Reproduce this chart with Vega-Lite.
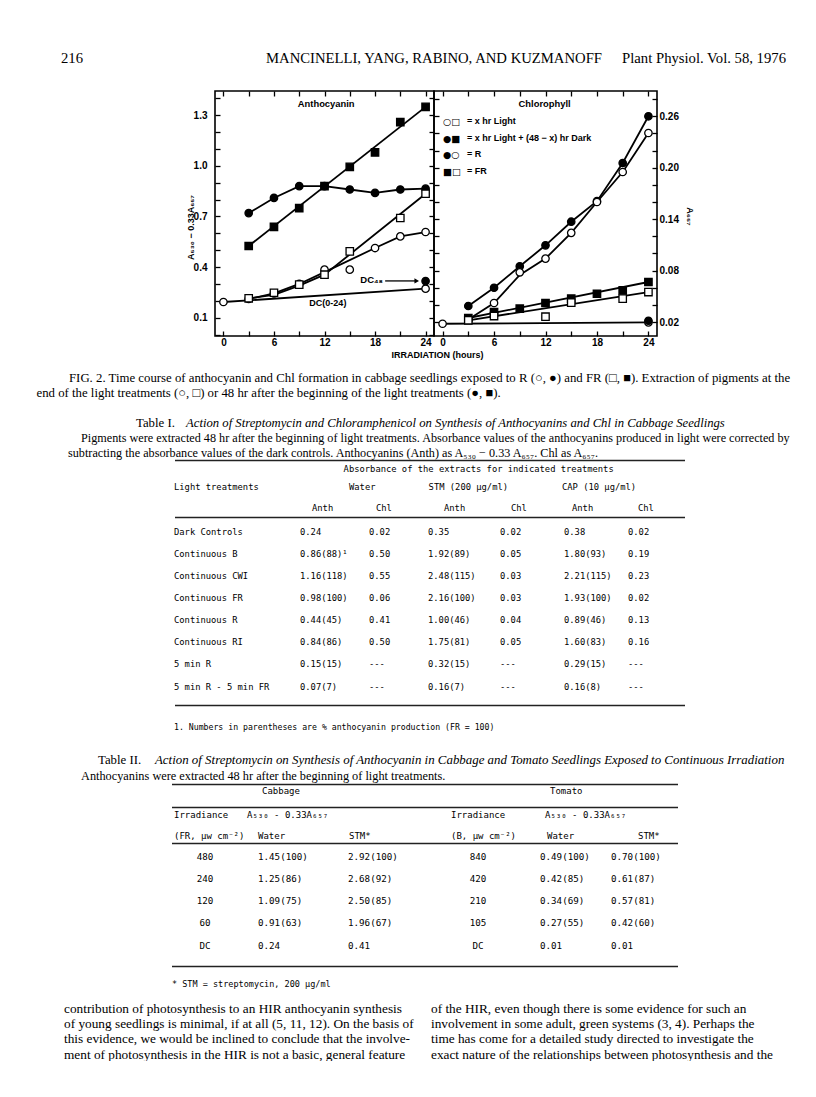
{
"$schema": "https://vega.github.io/schema/vega-lite/v6.json",
"padding": 0,
"background": "white",
"spacing": 0,
"config": {
  "view": {"stroke": null},
  "axis": {"grid": false, "domain": false, "ticks": true, "tickColor": "black", "tickWidth": 1.3, "labelColor": "black", "labelFont": "Liberation Sans", "labelFontWeight": "bold", "labelFontSize": 10, "labelFlush": false, "labelOverlap": false, "titleColor": "black", "titleFont": "Liberation Sans", "titleFontWeight": "bold", "titleFontSize": 9},
  "text": {"color": "black"}
},
"datasets": {
  "header": [
    {"t": "216", "slot": "left"},
    {"t": "MANCINELLI, YANG, RABINO, AND KUZMANOFF", "slot": "center"},
    {"t": "Plant Physiol. Vol. 58, 1976", "slot": "right"}
  ],
  "antho_pts": [
    {"hour": 3, "value": 0.72, "treatment": "R", "extraction": "48 h"},
    {"hour": 6, "value": 0.81, "treatment": "R", "extraction": "48 h"},
    {"hour": 9, "value": 0.88, "treatment": "R", "extraction": "48 h"},
    {"hour": 12, "value": 0.88, "treatment": "R", "extraction": "48 h"},
    {"hour": 15, "value": 0.86, "treatment": "R", "extraction": "48 h"},
    {"hour": 18, "value": 0.84, "treatment": "R", "extraction": "48 h"},
    {"hour": 21, "value": 0.86, "treatment": "R", "extraction": "48 h"},
    {"hour": 24, "value": 0.865, "treatment": "R", "extraction": "48 h"},
    {"hour": 3, "value": 0.525, "treatment": "FR", "extraction": "48 h"},
    {"hour": 6, "value": 0.638, "treatment": "FR", "extraction": "48 h"},
    {"hour": 9, "value": 0.75, "treatment": "FR", "extraction": "48 h"},
    {"hour": 12, "value": 0.88, "treatment": "FR", "extraction": "48 h"},
    {"hour": 15, "value": 0.994, "treatment": "FR", "extraction": "48 h"},
    {"hour": 18, "value": 1.08, "treatment": "FR", "extraction": "48 h"},
    {"hour": 21, "value": 1.26, "treatment": "FR", "extraction": "48 h"},
    {"hour": 24, "value": 1.35, "treatment": "FR", "extraction": "48 h"},
    {"hour": 3, "value": 0.211, "treatment": "R", "extraction": "end of light"},
    {"hour": 6, "value": 0.244, "treatment": "R", "extraction": "end of light"},
    {"hour": 9, "value": 0.3, "treatment": "R", "extraction": "end of light"},
    {"hour": 12, "value": 0.385, "treatment": "R", "extraction": "end of light"},
    {"hour": 15, "value": 0.385, "treatment": "R", "extraction": "end of light"},
    {"hour": 18, "value": 0.513, "treatment": "R", "extraction": "end of light"},
    {"hour": 21, "value": 0.582, "treatment": "R", "extraction": "end of light"},
    {"hour": 24, "value": 0.608, "treatment": "R", "extraction": "end of light"},
    {"hour": 3, "value": 0.215, "treatment": "FR", "extraction": "end of light"},
    {"hour": 6, "value": 0.248, "treatment": "FR", "extraction": "end of light"},
    {"hour": 9, "value": 0.296, "treatment": "FR", "extraction": "end of light"},
    {"hour": 12, "value": 0.355, "treatment": "FR", "extraction": "end of light"},
    {"hour": 15, "value": 0.493, "treatment": "FR", "extraction": "end of light"},
    {"hour": 21, "value": 0.691, "treatment": "FR", "extraction": "end of light"},
    {"hour": 24, "value": 0.835, "treatment": "FR", "extraction": "end of light"},
    {"hour": 0, "value": 0.193, "treatment": "DC", "extraction": "end of light"},
    {"hour": 24, "value": 0.272, "treatment": "DC", "extraction": "end of light"},
    {"hour": 24, "value": 0.317, "treatment": "DC", "extraction": "48 h"}
  ],
  "antho_lines": [
    {"series": "R, 48 h", "hour": 3, "value": 0.72},
    {"series": "R, 48 h", "hour": 6, "value": 0.81},
    {"series": "R, 48 h", "hour": 9, "value": 0.88},
    {"series": "R, 48 h", "hour": 12, "value": 0.88},
    {"series": "R, 48 h", "hour": 15, "value": 0.86},
    {"series": "R, 48 h", "hour": 18, "value": 0.84},
    {"series": "R, 48 h", "hour": 21, "value": 0.86},
    {"series": "R, 48 h", "hour": 24, "value": 0.865},
    {"series": "FR, 48 h", "hour": 3, "value": 0.525},
    {"series": "FR, 48 h", "hour": 24, "value": 1.35},
    {"series": "R, end", "hour": 3, "value": 0.211},
    {"series": "R, end", "hour": 6, "value": 0.244},
    {"series": "R, end", "hour": 9, "value": 0.3},
    {"series": "R, end", "hour": 12, "value": 0.37},
    {"series": "R, end", "hour": 18, "value": 0.513},
    {"series": "R, end", "hour": 21, "value": 0.582},
    {"series": "R, end", "hour": 24, "value": 0.608},
    {"series": "FR, end", "hour": 3, "value": 0.215},
    {"series": "FR, end", "hour": 6, "value": 0.235},
    {"series": "FR, end", "hour": 9, "value": 0.29},
    {"series": "FR, end", "hour": 12, "value": 0.355},
    {"series": "FR, end", "hour": 24, "value": 0.835},
    {"series": "DC", "hour": 0, "value": 0.193},
    {"series": "DC", "hour": 24, "value": 0.272}
  ],
  "chl_pts": [
    {"hour": 3, "value": 0.0387, "treatment": "R", "extraction": "48 h"},
    {"hour": 6, "value": 0.06, "treatment": "R", "extraction": "48 h"},
    {"hour": 9, "value": 0.085, "treatment": "R", "extraction": "48 h"},
    {"hour": 12, "value": 0.1095, "treatment": "R", "extraction": "48 h"},
    {"hour": 15, "value": 0.137, "treatment": "R", "extraction": "48 h"},
    {"hour": 18, "value": 0.161, "treatment": "R", "extraction": "48 h"},
    {"hour": 21, "value": 0.2055, "treatment": "R", "extraction": "48 h"},
    {"hour": 24, "value": 0.26, "treatment": "R", "extraction": "48 h"},
    {"hour": 3, "value": 0.023, "treatment": "R", "extraction": "end of light"},
    {"hour": 6, "value": 0.0422, "treatment": "R", "extraction": "end of light"},
    {"hour": 9, "value": 0.078, "treatment": "R", "extraction": "end of light"},
    {"hour": 12, "value": 0.094, "treatment": "R", "extraction": "end of light"},
    {"hour": 15, "value": 0.124, "treatment": "R", "extraction": "end of light"},
    {"hour": 18, "value": 0.16, "treatment": "R", "extraction": "end of light"},
    {"hour": 21, "value": 0.195, "treatment": "R", "extraction": "end of light"},
    {"hour": 24, "value": 0.2405, "treatment": "R", "extraction": "end of light"},
    {"hour": 3, "value": 0.0247, "treatment": "FR", "extraction": "48 h"},
    {"hour": 6, "value": 0.0317, "treatment": "FR", "extraction": "48 h"},
    {"hour": 9, "value": 0.0356, "treatment": "FR", "extraction": "48 h"},
    {"hour": 12, "value": 0.0422, "treatment": "FR", "extraction": "48 h"},
    {"hour": 15, "value": 0.0473, "treatment": "FR", "extraction": "48 h"},
    {"hour": 18, "value": 0.053, "treatment": "FR", "extraction": "48 h"},
    {"hour": 21, "value": 0.057, "treatment": "FR", "extraction": "48 h"},
    {"hour": 24, "value": 0.0667, "treatment": "FR", "extraction": "48 h"},
    {"hour": 3, "value": 0.022, "treatment": "FR", "extraction": "end of light"},
    {"hour": 6, "value": 0.027, "treatment": "FR", "extraction": "end of light"},
    {"hour": 12, "value": 0.0262, "treatment": "FR", "extraction": "end of light"},
    {"hour": 15, "value": 0.0426, "treatment": "FR", "extraction": "end of light"},
    {"hour": 21, "value": 0.0473, "treatment": "FR", "extraction": "end of light"},
    {"hour": 24, "value": 0.055, "treatment": "FR", "extraction": "end of light"},
    {"hour": 0, "value": 0.018, "treatment": "DC", "extraction": "end of light"},
    {"hour": 24, "value": 0.0195, "treatment": "DC", "extraction": "end of light"},
    {"hour": 24, "value": 0.0215, "treatment": "DC", "extraction": "48 h"}
  ],
  "chl_lines": [
    {"series": "R, 48 h", "hour": 3, "value": 0.0387},
    {"series": "R, 48 h", "hour": 6, "value": 0.06},
    {"series": "R, 48 h", "hour": 9, "value": 0.085},
    {"series": "R, 48 h", "hour": 12, "value": 0.1095},
    {"series": "R, 48 h", "hour": 15, "value": 0.137},
    {"series": "R, 48 h", "hour": 18, "value": 0.161},
    {"series": "R, 48 h", "hour": 21, "value": 0.2055},
    {"series": "R, 48 h", "hour": 24, "value": 0.26},
    {"series": "R, end", "hour": 3, "value": 0.023},
    {"series": "R, end", "hour": 6, "value": 0.0422},
    {"series": "R, end", "hour": 9, "value": 0.075},
    {"series": "R, end", "hour": 12, "value": 0.094},
    {"series": "R, end", "hour": 15, "value": 0.124},
    {"series": "R, end", "hour": 18, "value": 0.16},
    {"series": "R, end", "hour": 21, "value": 0.195},
    {"series": "R, end", "hour": 24, "value": 0.2405},
    {"series": "FR, 48 h", "hour": 3, "value": 0.0247},
    {"series": "FR, 48 h", "hour": 24, "value": 0.0667},
    {"series": "FR, end", "hour": 3, "value": 0.022},
    {"series": "FR, end", "hour": 24, "value": 0.055},
    {"series": "DC", "hour": 0, "value": 0.018},
    {"series": "DC", "hour": 24, "value": 0.0195}
  ],
  "t1groups": [
    {"grp": 0, "t": "Light treatments"},
    {"grp": 1, "t": "Water"},
    {"grp": 2, "t": "STM (200 µg/ml)"},
    {"grp": 3, "t": "CAP (10 µg/ml)"}
  ],
  "t1sub": [
    {"col": 1, "t": "Anth"}, {"col": 2, "t": "Chl"},
    {"col": 3, "t": "Anth"}, {"col": 4, "t": "Chl"},
    {"col": 5, "t": "Anth"}, {"col": 6, "t": "Chl"}
  ],
  "table1": [
    {"row": 0, "col": 0, "t": "Dark Controls"}, {"row": 0, "col": 1, "t": "0.24"}, {"row": 0, "col": 2, "t": "0.02"}, {"row": 0, "col": 3, "t": "0.35"}, {"row": 0, "col": 4, "t": "0.02"}, {"row": 0, "col": 5, "t": "0.38"}, {"row": 0, "col": 6, "t": "0.02"},
    {"row": 1, "col": 0, "t": "Continuous B"}, {"row": 1, "col": 1, "t": "0.86(88)¹"}, {"row": 1, "col": 2, "t": "0.50"}, {"row": 1, "col": 3, "t": "1.92(89)"}, {"row": 1, "col": 4, "t": "0.05"}, {"row": 1, "col": 5, "t": "1.80(93)"}, {"row": 1, "col": 6, "t": "0.19"},
    {"row": 2, "col": 0, "t": "Continuous CWI"}, {"row": 2, "col": 1, "t": "1.16(118)"}, {"row": 2, "col": 2, "t": "0.55"}, {"row": 2, "col": 3, "t": "2.48(115)"}, {"row": 2, "col": 4, "t": "0.03"}, {"row": 2, "col": 5, "t": "2.21(115)"}, {"row": 2, "col": 6, "t": "0.23"},
    {"row": 3, "col": 0, "t": "Continuous FR"}, {"row": 3, "col": 1, "t": "0.98(100)"}, {"row": 3, "col": 2, "t": "0.06"}, {"row": 3, "col": 3, "t": "2.16(100)"}, {"row": 3, "col": 4, "t": "0.03"}, {"row": 3, "col": 5, "t": "1.93(100)"}, {"row": 3, "col": 6, "t": "0.02"},
    {"row": 4, "col": 0, "t": "Continuous R"}, {"row": 4, "col": 1, "t": "0.44(45)"}, {"row": 4, "col": 2, "t": "0.41"}, {"row": 4, "col": 3, "t": "1.00(46)"}, {"row": 4, "col": 4, "t": "0.04"}, {"row": 4, "col": 5, "t": "0.89(46)"}, {"row": 4, "col": 6, "t": "0.13"},
    {"row": 5, "col": 0, "t": "Continuous RI"}, {"row": 5, "col": 1, "t": "0.84(86)"}, {"row": 5, "col": 2, "t": "0.50"}, {"row": 5, "col": 3, "t": "1.75(81)"}, {"row": 5, "col": 4, "t": "0.05"}, {"row": 5, "col": 5, "t": "1.60(83)"}, {"row": 5, "col": 6, "t": "0.16"},
    {"row": 6, "col": 0, "t": "5 min R"}, {"row": 6, "col": 1, "t": "0.15(15)"}, {"row": 6, "col": 2, "t": "---"}, {"row": 6, "col": 3, "t": "0.32(15)"}, {"row": 6, "col": 4, "t": "---"}, {"row": 6, "col": 5, "t": "0.29(15)"}, {"row": 6, "col": 6, "t": "---"},
    {"row": 7, "col": 0, "t": "5 min R - 5 min FR"}, {"row": 7, "col": 1, "t": "0.07(7)"}, {"row": 7, "col": 2, "t": "---"}, {"row": 7, "col": 3, "t": "0.16(7)"}, {"row": 7, "col": 4, "t": "---"}, {"row": 7, "col": 5, "t": "0.16(8)"}, {"row": 7, "col": 6, "t": "---"}
  ],
  "t2head": [
    {"hrow": 0, "hcol": 3, "t": "Cabbage"},
    {"hrow": 0, "hcol": 8, "t": "Tomato"},
    {"hrow": 1, "hcol": 0, "t": "Irradiance"},
    {"hrow": 1, "hcol": 1, "t": "A₅₃₀ - 0.33A₆₅₇"},
    {"hrow": 1, "hcol": 5, "t": "Irradiance"},
    {"hrow": 1, "hcol": 6, "t": "A₅₃₀ - 0.33A₆₅₇"},
    {"hrow": 2, "hcol": 0, "t": "(FR, µw cm⁻²)"},
    {"hrow": 2, "hcol": 2, "t": "Water"},
    {"hrow": 2, "hcol": 4, "t": "STM*"},
    {"hrow": 2, "hcol": 5, "t": "(B, µw cm⁻²)"},
    {"hrow": 2, "hcol": 7, "t": "Water"},
    {"hrow": 2, "hcol": 9, "t": "STM*"}
  ],
  "table2": [
    {"row": 0, "col": 0, "t": "480"}, {"row": 0, "col": 1, "t": "1.45(100)"}, {"row": 0, "col": 2, "t": "2.92(100)"}, {"row": 0, "col": 3, "t": "840"}, {"row": 0, "col": 4, "t": "0.49(100)"}, {"row": 0, "col": 5, "t": "0.70(100)"},
    {"row": 1, "col": 0, "t": "240"}, {"row": 1, "col": 1, "t": "1.25(86)"}, {"row": 1, "col": 2, "t": "2.68(92)"}, {"row": 1, "col": 3, "t": "420"}, {"row": 1, "col": 4, "t": "0.42(85)"}, {"row": 1, "col": 5, "t": "0.61(87)"},
    {"row": 2, "col": 0, "t": "120"}, {"row": 2, "col": 1, "t": "1.09(75)"}, {"row": 2, "col": 2, "t": "2.50(85)"}, {"row": 2, "col": 3, "t": "210"}, {"row": 2, "col": 4, "t": "0.34(69)"}, {"row": 2, "col": 5, "t": "0.57(81)"},
    {"row": 3, "col": 0, "t": "60"}, {"row": 3, "col": 1, "t": "0.91(63)"}, {"row": 3, "col": 2, "t": "1.96(67)"}, {"row": 3, "col": 3, "t": "105"}, {"row": 3, "col": 4, "t": "0.27(55)"}, {"row": 3, "col": 5, "t": "0.42(60)"},
    {"row": 4, "col": 0, "t": "DC"}, {"row": 4, "col": 1, "t": "0.24"}, {"row": 4, "col": 2, "t": "0.41"}, {"row": 4, "col": 3, "t": "DC"}, {"row": 4, "col": 4, "t": "0.01"}, {"row": 4, "col": 5, "t": "0.01"}
  ],
  "body": [
    {"colm": 0, "line": 0, "t": "contribution of photosynthesis to an HIR anthocyanin synthesis"},
    {"colm": 0, "line": 1, "t": "of young seedlings is minimal, if at all (5, 11, 12). On the basis of"},
    {"colm": 0, "line": 2, "t": "this evidence, we would be inclined to conclude that the involve-"},
    {"colm": 0, "line": 3, "t": "ment of photosynthesis in the HIR is not a basic, general feature"},
    {"colm": 1, "line": 0, "t": "of the HIR, even though there is some evidence for such an"},
    {"colm": 1, "line": 1, "t": "involvement in some adult, green systems (3, 4). Perhaps the"},
    {"colm": 1, "line": 2, "t": "time has come for a detailed study directed to investigate the"},
    {"colm": 1, "line": 3, "t": "exact nature of the relationships between photosynthesis and the"}
  ]
},
"vconcat": [
  {
    "width": 816, "height": 89,
    "data": {"name": "header"},
    "layer": [
      {"transform": [{"filter": "datum.slot === 'left'"}], "mark": {"type": "text", "align": "left", "baseline": "middle", "font": "Liberation Serif", "fontSize": 14.7}, "encoding": {"text": {"field": "t", "type": "nominal"}, "x": {"value": 61}, "y": {"value": 59}}},
      {"transform": [{"filter": "datum.slot === 'center'"}], "mark": {"type": "text", "align": "center", "baseline": "middle", "font": "Liberation Serif", "fontSize": 14.7}, "encoding": {"text": {"field": "t", "type": "nominal"}, "x": {"value": 434}, "y": {"value": 59}}},
      {"transform": [{"filter": "datum.slot === 'right'"}], "mark": {"type": "text", "align": "right", "baseline": "middle", "font": "Liberation Serif", "fontSize": 14.7}, "encoding": {"text": {"field": "t", "type": "nominal"}, "x": {"value": 786}, "y": {"value": 59}}}
    ]
  },
  {
    "spacing": 0,
    "bounds": "flush",
    "hconcat": [
      {
        "width": 215, "height": 245,
        "resolve": {"scale": {"x": "independent", "y": "independent"}},
        "layer": [
          {"data": {"values": [{"t": "FIG. 2. Time course of anthocyanin and Chl formation in cabbage seedlings exposed to R (○, ●) and FR (□, ■). Extraction of pigments at the"}]},
           "mark": {"type": "text", "align": "left", "baseline": "middle", "font": "Liberation Serif", "fontSize": 12.8}, "encoding": {"text": {"field": "t", "type": "nominal"}, "x": {"value": 69}, "y": {"value": 286.5}}},
          {"data": {"values": [{"t": "end of the light treatments (○, □) or 48 hr after the beginning of the light treatments (●, ■)."}]},
           "mark": {"type": "text", "align": "left", "baseline": "middle", "font": "Liberation Serif", "fontSize": 12.8}, "encoding": {"text": {"field": "t", "type": "nominal"}, "x": {"value": 36.5}, "y": {"value": 301.5}}},
          {"data": {"values": [{"t": "Table I."}]},
           "mark": {"type": "text", "align": "left", "baseline": "middle", "font": "Liberation Serif", "fontSize": 12.8}, "encoding": {"text": {"field": "t", "type": "nominal"}, "x": {"value": 136}, "y": {"value": 331.5}}},
          {"data": {"values": [{"t": "Action of Streptomycin and Chloramphenicol on Synthesis of Anthocyanins and Chl in Cabbage Seedlings"}]},
           "mark": {"type": "text", "align": "left", "baseline": "middle", "font": "Liberation Serif", "fontSize": 12.7, "fontStyle": "italic"}, "encoding": {"text": {"field": "t", "type": "nominal"}, "x": {"value": 186}, "y": {"value": 331.5}}},
          {"data": {"values": [{"t": "Pigments were extracted 48 hr after the beginning of light treatments. Absorbance values of the anthocyanins produced in light were corrected by"}]},
           "mark": {"type": "text", "align": "left", "baseline": "middle", "font": "Liberation Serif", "fontSize": 12.2}, "encoding": {"text": {"field": "t", "type": "nominal"}, "x": {"value": 81}, "y": {"value": 346.5}}},
          {"data": {"values": [{"t": "subtracting the absorbance values of the dark controls. Anthocyanins (Anth) as A₅₃₀ − 0.33 A₆₅₇. Chl as A₆₅₇."}]},
           "mark": {"type": "text", "align": "left", "baseline": "middle", "font": "Liberation Serif", "fontSize": 12.2}, "encoding": {"text": {"field": "t", "type": "nominal"}, "x": {"value": 68}, "y": {"value": 361.5}}},
          {"data": {"values": [{"r": 0}, {"r": 1}, {"r": 2}]},
           "mark": {"type": "rule", "color": "#222", "strokeWidth": 1.6},
           "encoding": {"y": {"field": "r", "type": "quantitative", "scale": {"domain": [0, 1, 2], "range": [369.5, 426.5, 614.5], "nice": false, "zero": false}, "axis": null}, "x": {"value": 175}, "x2": {"value": 685}}},
          {"data": {"values": [{"t": "Absorbance of the extracts for indicated treatments"}]},
           "mark": {"type": "text", "align": "left", "baseline": "middle", "font": "DejaVu Sans Mono", "fontSize": 8.8}, "encoding": {"text": {"field": "t", "type": "nominal"}, "x": {"value": 343.6}, "y": {"value": 377.5}}},
          {"data": {"name": "t1groups"},
           "mark": {"type": "text", "align": "left", "baseline": "middle", "font": "DejaVu Sans Mono", "fontSize": 8.8},
           "encoding": {"text": {"field": "t", "type": "nominal"}, "x": {"field": "grp", "type": "quantitative", "scale": {"domain": [0, 1, 2, 3], "range": [174, 349, 428.6, 562], "nice": false, "zero": false}, "axis": null}, "y": {"value": 395.5}}},
          {"data": {"name": "t1sub"},
           "mark": {"type": "text", "align": "left", "baseline": "middle", "font": "DejaVu Sans Mono", "fontSize": 8.8},
           "encoding": {"text": {"field": "t", "type": "nominal"}, "x": {"field": "col", "type": "quantitative", "scale": {"domain": [1, 2, 3, 4, 5, 6], "range": [312, 376, 444, 511, 572, 638], "nice": false, "zero": false}, "axis": null}, "y": {"value": 416.5}}},
          {"data": {"name": "table1"},
           "mark": {"type": "text", "align": "left", "baseline": "middle", "font": "DejaVu Sans Mono", "fontSize": 8.8},
           "encoding": {"text": {"field": "t", "type": "nominal"},
             "x": {"field": "col", "type": "quantitative", "scale": {"domain": [0, 1, 2, 3, 4, 5, 6], "range": [174, 300, 369, 428, 500, 564, 628], "nice": false, "zero": false}, "axis": null},
             "y": {"field": "row", "type": "quantitative", "scale": {"domain": [0, 7], "range": [440.5, 595.5], "nice": false, "zero": false}, "axis": null}}},
          {"data": {"values": [{"t": "1.  Numbers in parentheses are % anthocyanin production (FR = 100)"}]},
           "mark": {"type": "text", "align": "left", "baseline": "middle", "font": "DejaVu Sans Mono", "fontSize": 8.2}, "encoding": {"text": {"field": "t", "type": "nominal"}, "x": {"value": 174}, "y": {"value": 636.5}}},
          {"data": {"values": [{"t": "Table II."}]},
           "mark": {"type": "text", "align": "left", "baseline": "middle", "font": "Liberation Serif", "fontSize": 12.8}, "encoding": {"text": {"field": "t", "type": "nominal"}, "x": {"value": 98}, "y": {"value": 668.5}}},
          {"data": {"values": [{"t": "Action of Streptomycin on Synthesis of Anthocyanin in Cabbage and Tomato Seedlings Exposed to Continuous Irradiation"}]},
           "mark": {"type": "text", "align": "left", "baseline": "middle", "font": "Liberation Serif", "fontSize": 12.9, "fontStyle": "italic"}, "encoding": {"text": {"field": "t", "type": "nominal"}, "x": {"value": 155}, "y": {"value": 668.5}}},
          {"data": {"values": [{"t": "Anthocyanins were extracted 48 hr after the beginning of light treatments."}]},
           "mark": {"type": "text", "align": "left", "baseline": "middle", "font": "Liberation Serif", "fontSize": 12.3}, "encoding": {"text": {"field": "t", "type": "nominal"}, "x": {"value": 81}, "y": {"value": 684.5}}},
          {"data": {"values": [{"r": 0}, {"r": 1}, {"r": 2}, {"r": 3}]},
           "mark": {"type": "rule", "color": "#222", "strokeWidth": 1.6},
           "encoding": {"y": {"field": "r", "type": "quantitative", "scale": {"domain": [0, 1, 2, 3], "range": [693.5, 716.5, 752.5, 875.5], "nice": false, "zero": false}, "axis": null}, "x": {"value": 172}, "x2": {"value": 678}}},
          {"data": {"name": "t2head"},
           "mark": {"type": "text", "align": "left", "baseline": "middle", "font": "DejaVu Sans Mono", "fontSize": 9},
           "encoding": {"text": {"field": "t", "type": "nominal"},
             "x": {"field": "hcol", "type": "quantitative", "scale": {"domain": [0, 1, 2, 3, 4, 5, 6, 7, 8, 9], "range": [174, 247, 258, 262, 349, 451, 545, 547, 550, 638], "nice": false, "zero": false}, "axis": null},
             "y": {"field": "hrow", "type": "quantitative", "scale": {"domain": [0, 1, 2], "range": [699.5, 723.5, 744.5], "nice": false, "zero": false}, "axis": null}}},
          {"data": {"name": "table2"},
           "transform": [{"filter": "datum.col === 0 || datum.col === 3"}],
           "mark": {"type": "text", "align": "center", "baseline": "middle", "font": "DejaVu Sans Mono", "fontSize": 9.2},
           "encoding": {"text": {"field": "t", "type": "nominal"},
             "x": {"field": "col", "type": "quantitative", "scale": {"domain": [0, 3], "range": [205, 478], "nice": false, "zero": false}, "axis": null},
             "y": {"field": "row", "type": "quantitative", "scale": {"domain": [0, 4], "range": [765.5, 854.5], "nice": false, "zero": false}, "axis": null}}},
          {"data": {"name": "table2"},
           "transform": [{"filter": "datum.col !== 0 && datum.col !== 3"}],
           "mark": {"type": "text", "align": "left", "baseline": "middle", "font": "DejaVu Sans Mono", "fontSize": 9.2},
           "encoding": {"text": {"field": "t", "type": "nominal"},
             "x": {"field": "col", "type": "quantitative", "scale": {"domain": [1, 2, 4, 5], "range": [258, 348, 540, 611], "nice": false, "zero": false}, "axis": null},
             "y": {"field": "row", "type": "quantitative", "scale": {"domain": [0, 4], "range": [765.5, 854.5], "nice": false, "zero": false}, "axis": null}}},
          {"data": {"values": [{"t": "* STM = streptomycin, 200 µg/ml"}]},
           "mark": {"type": "text", "align": "left", "baseline": "middle", "font": "DejaVu Sans Mono", "fontSize": 8.5}, "encoding": {"text": {"field": "t", "type": "nominal"}, "x": {"value": 172}, "y": {"value": 892.5}}},
          {"data": {"name": "body"},
           "mark": {"type": "text", "align": "left", "baseline": "middle", "font": "Liberation Serif", "fontSize": 13.3},
           "encoding": {"text": {"field": "t", "type": "nominal"},
             "x": {"field": "colm", "type": "quantitative", "scale": {"domain": [0, 1], "range": [64, 431], "nice": false, "zero": false}, "axis": null},
             "y": {"field": "line", "type": "quantitative", "scale": {"domain": [0, 3], "range": [917.5, 963.5], "nice": false, "zero": false}, "axis": null}}}
        ]
      },
      {
        "width": 219, "height": 245,
        "view": {"stroke": "black", "strokeWidth": 1.6},
        "resolve": {"axis": {"x": "independent", "y": "independent"}},
        "layer": [
          {
            "data": {"name": "antho_lines"},
            "mark": {"type": "line", "color": "black", "strokeWidth": 1.8},
            "encoding": {
              "x": {"field": "hour", "type": "quantitative", "scale": {"domain": [-1, 25], "nice": false, "zero": false},
                "axis": {"orient": "bottom", "values": [0, 3, 6, 9, 12, 15, 18, 21, 24], "labelExpr": "datum.value % 6 === 0 ? datum.label : ''", "tickSize": -5, "labelPadding": 6.5, "title": "IRRADIATION (hours)", "titleX": 222, "titleY": 14.5, "titleAlign": "center"}},
              "y": {"field": "value", "type": "quantitative", "scale": {"domain": [-0.0085, 1.444], "nice": false, "zero": false},
                "axis": {"orient": "left", "values": [0, 0.1, 0.2, 0.3, 0.4, 0.5, 0.6, 0.7, 0.8, 0.9, 1.0, 1.1, 1.2, 1.3, 1.4], "format": ".1f", "labelExpr": "indexof(['0.1','0.4','0.7','1.0','1.3'], datum.label) >= 0 ? datum.label : ''", "tickSize": -5, "labelPadding": 13, "title": "A₅₃₀ − 0.33A₆₅₇", "titleX": -20, "titleY": 136}},
              "detail": {"field": "series", "type": "nominal"}
            }
          },
          {
            "data": {"name": "antho_pts"},
            "mark": {"type": "point", "filled": true, "stroke": "black", "strokeWidth": 1.3, "size": 55, "opacity": 1},
            "encoding": {
              "x": {"field": "hour", "type": "quantitative", "scale": {"domain": [-1, 25], "nice": false, "zero": false},
                "axis": {"orient": "top", "values": [0, 3, 6, 9, 12, 15, 18, 21, 24], "labels": false, "tickSize": -5, "title": null}},
              "y": {"field": "value", "type": "quantitative", "scale": {"domain": [-0.0085, 1.444], "nice": false, "zero": false},
                "axis": {"orient": "right", "values": [0, 0.1, 0.2, 0.3, 0.4, 0.5, 0.6, 0.7, 0.8, 0.9, 1.0, 1.1, 1.2, 1.3, 1.4], "labels": false, "tickSize": -5, "title": null}},
              "shape": {"field": "treatment", "type": "nominal", "scale": {"domain": ["R", "FR", "DC"], "range": ["circle", "square", "circle"]}, "legend": null},
              "fill": {"field": "extraction", "type": "nominal", "scale": {"domain": ["end of light", "48 h"], "range": ["white", "black"]}, "legend": null}
            }
          },
          {
            "data": {"values": [{"label": "Anthocyanin"}]},
            "mark": {"type": "text", "font": "Liberation Sans", "fontWeight": "bold", "fontSize": 9.4, "align": "center", "baseline": "middle"},
            "encoding": {"text": {"field": "label", "type": "nominal"}, "x": {"datum": 12.2, "type": "quantitative", "axis": null}, "y": {"datum": 1.367, "type": "quantitative", "axis": null}}
          },
          {
            "data": {"values": [{"label": "DC(0-24)"}]},
            "mark": {"type": "text", "font": "Liberation Sans", "fontWeight": "bold", "fontSize": 9, "align": "center", "baseline": "middle"},
            "encoding": {"text": {"field": "label", "type": "nominal"}, "x": {"datum": 12.4, "type": "quantitative", "axis": null}, "y": {"datum": 0.189, "type": "quantitative", "axis": null}}
          },
          {
            "data": {"values": [{"label": "DC₄₈"}]},
            "mark": {"type": "text", "font": "Liberation Sans", "fontWeight": "bold", "fontSize": 9.5, "align": "right", "baseline": "middle"},
            "encoding": {"text": {"field": "label", "type": "nominal"}, "x": {"datum": 18.95, "type": "quantitative", "axis": null}, "y": {"datum": 0.322, "type": "quantitative", "axis": null}}
          },
          {
            "data": {"values": [{"label": "arrow"}]},
            "mark": {"type": "rule", "color": "black", "strokeWidth": 1.3},
            "encoding": {"x": {"datum": 19.2, "type": "quantitative", "axis": null}, "x2": {"datum": 22.8}, "y": {"datum": 0.318, "type": "quantitative", "axis": null}}
          },
          {
            "data": {"values": [{"label": "arrowhead"}]},
            "mark": {"type": "point", "shape": "triangle-right", "filled": true, "color": "black", "size": 28, "opacity": 1},
            "encoding": {"x": {"datum": 22.95, "type": "quantitative", "axis": null}, "y": {"datum": 0.318, "type": "quantitative", "axis": null}}
          }
        ]
      },
      {
        "width": 223, "height": 245,
        "view": {"stroke": "black", "strokeWidth": 1.6},
        "resolve": {"axis": {"x": "independent", "y": "independent"}},
        "layer": [
          {
            "data": {"name": "chl_lines"},
            "mark": {"type": "line", "color": "black", "strokeWidth": 1.8},
            "encoding": {
              "x": {"field": "hour", "type": "quantitative", "scale": {"domain": [-1, 25], "nice": false, "zero": false},
                "axis": {"orient": "bottom", "values": [0, 3, 6, 9, 12, 15, 18, 21, 24], "labelExpr": "datum.value % 6 === 0 ? datum.label : ''", "tickSize": -5, "labelPadding": 6.5, "title": null}},
              "y": {"field": "value", "type": "quantitative", "scale": {"domain": [0.0037, 0.2895], "nice": false, "zero": false},
                "axis": {"orient": "left", "values": [0.02, 0.04, 0.06, 0.08, 0.1, 0.12, 0.14, 0.16, 0.18, 0.2, 0.22, 0.24, 0.26, 0.28], "labels": false, "tickSize": -5, "title": null}},
              "detail": {"field": "series", "type": "nominal"}
            }
          },
          {
            "data": {"name": "chl_pts"},
            "mark": {"type": "point", "filled": true, "stroke": "black", "strokeWidth": 1.3, "size": 55, "opacity": 1},
            "encoding": {
              "x": {"field": "hour", "type": "quantitative", "scale": {"domain": [-1, 25], "nice": false, "zero": false},
                "axis": {"orient": "top", "values": [0, 3, 6, 9, 12, 15, 18, 21, 24], "labels": false, "tickSize": -5, "title": null}},
              "y": {"field": "value", "type": "quantitative", "scale": {"domain": [0.0037, 0.2895], "nice": false, "zero": false},
                "axis": {"orient": "right", "values": [0.02, 0.04, 0.06, 0.08, 0.1, 0.12, 0.14, 0.16, 0.18, 0.2, 0.22, 0.24, 0.26, 0.28], "format": ".2f", "labelExpr": "indexof(['0.02','0.08','0.14','0.20','0.26'], datum.label) >= 0 ? datum.label : ''", "tickSize": -5, "labelPadding": 7, "title": "A₆₅₇", "titleAngle": 90, "titleY": 125, "titlePadding": 6}},
              "shape": {"field": "treatment", "type": "nominal", "scale": {"domain": ["R", "FR", "DC"], "range": ["circle", "square", "circle"]}, "legend": null},
              "fill": {"field": "extraction", "type": "nominal", "scale": {"domain": ["end of light", "48 h"], "range": ["white", "black"]}, "legend": null}
            }
          },
          {
            "data": {"values": [{"label": "Chlorophyll"}]},
            "mark": {"type": "text", "font": "Liberation Sans", "fontWeight": "bold", "fontSize": 9.4, "align": "center", "baseline": "middle"},
            "encoding": {"text": {"field": "label", "type": "nominal"}, "x": {"datum": 11.9, "type": "quantitative", "axis": null}, "y": {"datum": 0.2744, "type": "quantitative", "axis": null}}
          },
          {
            "data": {"values": [{"keys": ["○□", "●■", "●○", "■□"]}]},
            "mark": {"type": "text", "font": "DejaVu Sans", "fontSize": 9.5, "align": "left", "baseline": "top", "lineHeight": 16.6},
            "encoding": {"text": {"field": "keys", "type": "nominal"}, "x": {"datum": 0.05, "type": "quantitative", "axis": null}, "y": {"datum": 0.2592, "type": "quantitative", "axis": null}}
          },
          {
            "data": {"values": [{"labels": ["= x hr Light", "= x hr Light + (48 − x) hr Dark", "= R", "= FR"]}]},
            "mark": {"type": "text", "font": "Liberation Sans", "fontWeight": "bold", "fontSize": 9, "align": "left", "baseline": "top", "lineHeight": 16.6},
            "encoding": {"text": {"field": "labels", "type": "nominal"}, "x": {"datum": 2.85, "type": "quantitative", "axis": null}, "y": {"datum": 0.2592, "type": "quantitative", "axis": null}}
          }
        ]
      }
    ]
  }
]
}
